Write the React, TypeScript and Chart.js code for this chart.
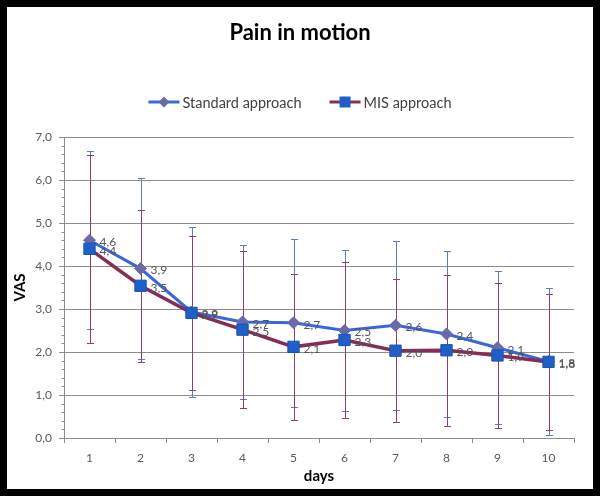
import React, { useEffect, useRef } from "react";
import { Chart, registerables } from "chart.js";

Chart.register(...registerables);

// ---- data ----
const chartTitle = "Pain in motion";
const days = ["1", "2", "3", "4", "5", "6", "7", "8", "9", "10"];
const standardMean = [4.6, 3.94, 2.93, 2.7, 2.68, 2.5, 2.62, 2.42, 2.1, 1.78];
const standardSD = [2.07, 2.1, 1.97, 1.79, 1.95, 1.87, 1.97, 1.92, 1.78, 1.72];
const misMean = [4.4, 3.54, 2.91, 2.52, 2.12, 2.28, 2.03, 2.04, 1.92, 1.77];
const misSD = [2.18, 1.77, 1.79, 1.82, 1.7, 1.81, 1.66, 1.76, 1.69, 1.59];
const yMin = 0;
const yMax = 7;
const yStep = 1;
const yMinorStep = 0.2;

const FONT = "Lato, 'Open Sans', sans-serif";
const fmt = (v: number) => v.toFixed(1).replace(".", ",");

const STD_LINE = "#3b67d9";
const STD_MARK = "#6a6aa8";
const STD_ERR = "#5b7cc4";
const MIS_LINE = "#862d57";
const MIS_MARK = "#1f5fc8";
const MIS_ERR = "#8e3f6e";
const GRID = "#8c8c8c";

const errorBarPlugin = {
  id: "errorBars",
  beforeDatasetsDraw(chart: any) {
    const { ctx } = chart;
    const y = chart.scales.y;
    chart.data.datasets.forEach((ds: any, i: number) => {
      const meta = chart.getDatasetMeta(i);
      ctx.save();
      ctx.strokeStyle = ds.errorColor;
      ctx.lineWidth = 1;
      meta.data.forEach((pt: any, j: number) => {
        const v = ds.data[j];
        const e = ds.errors[j];
        const x = Math.round(pt.x) + 0.5;
        const top = Math.round(y.getPixelForValue(v + e)) + 0.5;
        const bot = Math.round(y.getPixelForValue(v - e)) + 0.5;
        ctx.beginPath();
        ctx.moveTo(x, top);
        ctx.lineTo(x, bot);
        ctx.moveTo(x - 3.5, top);
        ctx.lineTo(x + 3.5, top);
        ctx.moveTo(x - 3.5, bot);
        ctx.lineTo(x + 3.5, bot);
        ctx.stroke();
      });
      ctx.restore();
    });
  },
};

const labelsPlugin = {
  id: "dataLabels",
  afterDatasetsDraw(chart: any) {
    const { ctx } = chart;
    ctx.save();
    ctx.font = `12px ${FONT}`;
    ctx.fillStyle = "#555555";
    ctx.textAlign = "left";
    ctx.textBaseline = "middle";
    chart.data.datasets.forEach((ds: any, i: number) => {
      const meta = chart.getDatasetMeta(i);
      meta.data.forEach((pt: any, j: number) => {
        ctx.fillText(fmt(ds.data[j]), pt.x + 10, pt.y + 2);
      });
    });
    ctx.restore();
  },
};

const minorTickPlugin = {
  id: "minorTicks",
  afterDraw(chart: any) {
    const { ctx } = chart;
    const y = chart.scales.y;
    const x0 = Math.round(chart.chartArea.left) + 0.5;
    ctx.save();
    ctx.strokeStyle = GRID;
    ctx.lineWidth = 1;
    ctx.beginPath();
    const n = Math.round((yMax - yMin) / yMinorStep);
    for (let k = 0; k <= n; k++) {
      const py = Math.round(y.getPixelForValue(yMin + k * yMinorStep)) + 0.5;
      ctx.moveTo(x0 - 3, py);
      ctx.lineTo(x0, py);
    }
    ctx.stroke();
    ctx.restore();
  },
};

const titleLegendPlugin = {
  id: "titleLegend",
  afterDraw(chart: any) {
    const { ctx } = chart;
    ctx.save();
    // title
    ctx.font = `bold 22px ${FONT}`;
    ctx.fillStyle = "#000000";
    ctx.textAlign = "center";
    ctx.textBaseline = "alphabetic";
    ctx.fillText(chartTitle, chart.width / 2, 33);

    // legend
    const cy = chart.chartArea.top - 35;
    const lineLen = 31;
    const gap = 3;
    const spacing = 28;
    ctx.font = `14.5px ${FONT}`;
    ctx.textBaseline = "middle";
    ctx.textAlign = "left";
    const items = chart.data.datasets.map((ds: any) => ({
      ds,
      w: lineLen + gap + ctx.measureText(ds.label).width,
    }));
    const total = items.reduce((s: number, it: any) => s + it.w, 0) + spacing * (items.length - 1);
    let x = chart.width / 2 - total / 2;
    items.forEach((it: any) => {
      const ds = it.ds;
      ctx.strokeStyle = ds.borderColor;
      ctx.lineWidth = 3;
      ctx.beginPath();
      ctx.moveTo(x, cy);
      ctx.lineTo(x + lineLen, cy);
      ctx.stroke();
      const mx = x + lineLen / 2;
      ctx.fillStyle = ds.pointBackgroundColor;
      ctx.beginPath();
      if (ds.pointStyle === "rectRot") {
        const r = 5.5;
        ctx.moveTo(mx, cy - r);
        ctx.lineTo(mx + r, cy);
        ctx.lineTo(mx, cy + r);
        ctx.lineTo(mx - r, cy);
        ctx.closePath();
      } else {
        ctx.rect(mx - 5.5, cy - 5.5, 11, 11);
      }
      ctx.fill();
      ctx.fillStyle = "#404040";
      ctx.fillText(ds.label, x + lineLen + gap, cy + 1);
      x += it.w + spacing;
    });
    ctx.restore();
  },
};

export default function App() {
  const ref = useRef<HTMLCanvasElement | null>(null);

  useEffect(() => {
    if (!ref.current) return;
    const chart = new Chart(ref.current, {
      type: "line",
      data: {
        labels: days,
        datasets: [
          {
            label: "Standard approach",
            data: standardMean,
            errors: standardSD,
            errorColor: STD_ERR,
            borderColor: STD_LINE,
            borderWidth: 3,
            pointStyle: "rectRot",
            pointRadius: 6,
            pointBackgroundColor: STD_MARK,
            pointBorderColor: STD_MARK,
            pointBorderWidth: 1,
            tension: 0,
            order: 1,
          } as any,
          {
            label: "MIS approach",
            data: misMean,
            errors: misSD,
            errorColor: MIS_ERR,
            borderColor: MIS_LINE,
            borderWidth: 3.5,
            pointStyle: "rect",
            pointRadius: 8,
            pointBackgroundColor: MIS_MARK,
            pointBorderColor: "#1a52b0",
            pointBorderWidth: 1,
            tension: 0,
            order: 0,
          } as any,
        ],
      },
      options: {
        animation: false,
        responsive: false,
        maintainAspectRatio: false,
        layout: { padding: { left: 0, right: 19, top: 130, bottom: 0 } },
        plugins: {
          legend: { display: false },
          tooltip: { enabled: false },
          title: { display: false },
        },
        scales: {
          x: {
            type: "category",
            offset: true,
            afterFit: (s: any) => {
              s.height = 51;
            },
            grid: {
              display: true,
              drawOnChartArea: false,
              drawTicks: true,
              tickLength: 5,
              offset: true,
              color: GRID,
            },
            border: { display: true, color: GRID },
            ticks: {
              color: "#595959",
              font: { family: FONT, size: 12 },
              padding: 8,
              maxRotation: 0,
            },
            title: {
              display: true,
              text: "days",
              color: "#000000",
              font: { family: FONT, size: 15, weight: "bold" },
              padding: { top: 0, bottom: 4 },
            },
          },
          y: {
            min: yMin,
            max: yMax,
            afterFit: (s: any) => {
              s.width = 57;
            },
            grid: {
              color: GRID,
              drawTicks: true,
              tickLength: 5,
            },
            border: { display: true, color: GRID },
            ticks: {
              stepSize: yStep,
              color: "#595959",
              font: { family: FONT, size: 12 },
              padding: 7,
              callback: (v: any) => fmt(Number(v)),
            },
            title: {
              display: true,
              text: "VAS",
              color: "#000000",
              font: { family: FONT, size: 15, weight: "bold" },
              padding: { top: 4, bottom: 0 },
            },
          },
        },
      } as any,
      plugins: [errorBarPlugin, labelsPlugin, minorTickPlugin, titleLegendPlugin],
    });
    return () => chart.destroy();
  }, []);

  return (
    <div style={{ position: "fixed", left: 0, top: 0, width: 600, height: 496, background: "#000" }}>
      <div
        style={{
          position: "absolute",
          left: 7,
          top: 7,
          width: 586,
          height: 482,
          background: "#fff",
        }}
      >
        <canvas ref={ref} width={586} height={482} style={{ display: "block", width: 586, height: 482 }} />
      </div>
    </div>
  );
}
